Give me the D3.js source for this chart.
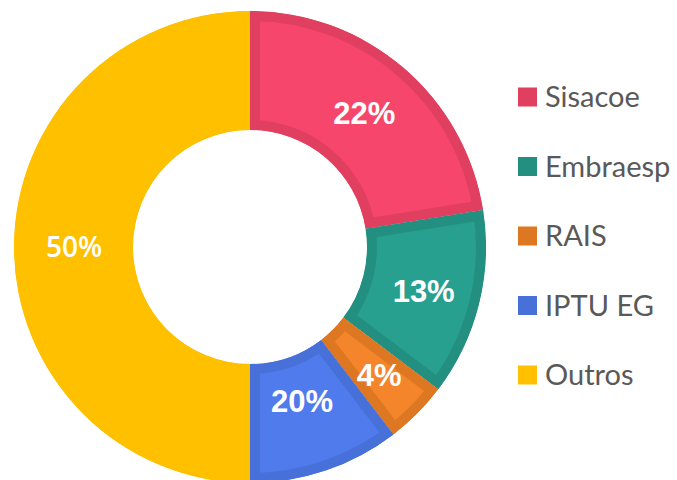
<!DOCTYPE html>
<html>
<head>
<meta charset="utf-8">
<script src="https://cdn.jsdelivr.net/npm/d3@7"></script>
<style>
  html, body { margin: 0; padding: 0; background: #fff; }
  #chart { width: 677px; height: 480px; }
</style>
</head>
<body>
<div id="chart"></div>
<script>
// Data
const categories = ['Sisacoe', 'Embraesp', 'RAIS', 'IPTU EG', 'Outros'];
const values = [22.5, 12.8, 4.3, 10.4, 50];
const valueLabels = ['22%', '13%', '4%', '20%', '50%'];

const fillColors = ['#f7466b', '#27a08f', '#f4852a', '#4f7bec', '#ffc000'];
const borderColors = ['#e03f5f', '#228f81', '#de7722', '#4870d9', '#ffc000'];

const width = 677, height = 480;
const cx = 250, cy = 247;
const outerR = 236, innerR = 117;
const borderW = 10;
// label distance from centre, per slice
const labelRadius = [176, 179, 182, 162, 176];

const svg = d3.select('#chart')
  .append('svg')
  .attr('width', width)
  .attr('height', height);

const pie = d3.pie().sort(null).value(d => d)(values);
const arc = d3.arc().innerRadius(innerR).outerRadius(outerR);

const g = svg.append('g').attr('transform', `translate(${cx},${cy})`);

// Slices: path stroked twice the border width and clipped to itself -> inner border
const slices = g.selectAll('g.slice')
  .data(pie)
  .enter().append('g')
  .attr('class', 'slice');

slices.append('clipPath')
  .attr('id', (d, i) => `clip-${i}`)
  .append('path')
  .attr('d', arc);

slices.append('path')
  .attr('d', arc)
  .attr('fill', (d, i) => fillColors[i])
  .attr('stroke', (d, i) => borderColors[i])
  .attr('stroke-width', borderW * 2)
  .attr('stroke-linejoin', 'miter')
  .attr('clip-path', (d, i) => `url(#clip-${i})`);

// Value labels
g.selectAll('text.val')
  .data(pie)
  .enter().append('text')
  .attr('class', 'val')
  .attr('transform', (d, i) => {
    const a = (d.startAngle + d.endAngle) / 2;
    const r = labelRadius[i];
    return `translate(${r * Math.sin(a)},${-r * Math.cos(a)})`;
  })
  .attr('text-anchor', 'middle')
  .attr('dy', '0.36em')
  .attr('fill', '#fff')
  .style('font-family', (d, i) => i === 4 ? '"Open Sans", sans-serif' : '"Liberation Sans", Arial, sans-serif')
  .style('font-weight', (d, i) => i === 4 ? 600 : 700)
  .style('font-size', (d, i) => i === 4 ? '28px' : '31px')
  .text((d, i) => valueLabels[i]);

// Legend
const ly = d3.scalePoint()
  .domain(categories)
  .range([97, 375]);

const legend = svg.append('g')
  .selectAll('g')
  .data(categories)
  .enter().append('g')
  .attr('transform', d => `translate(518,${ly(d)})`);

legend.append('rect')
  .attr('x', 0)
  .attr('y', -9.5)
  .attr('width', 19)
  .attr('height', 19)
  .attr('fill', (d, i) => borderColors[i]);

legend.append('text')
  .attr('x', 27)
  .attr('dy', '0.36em')
  .attr('fill', '#595959')
  .style('font-family', 'Lato, sans-serif')
  .style('font-size', '29px')
  .text(d => d);
</script>
</body>
</html>
